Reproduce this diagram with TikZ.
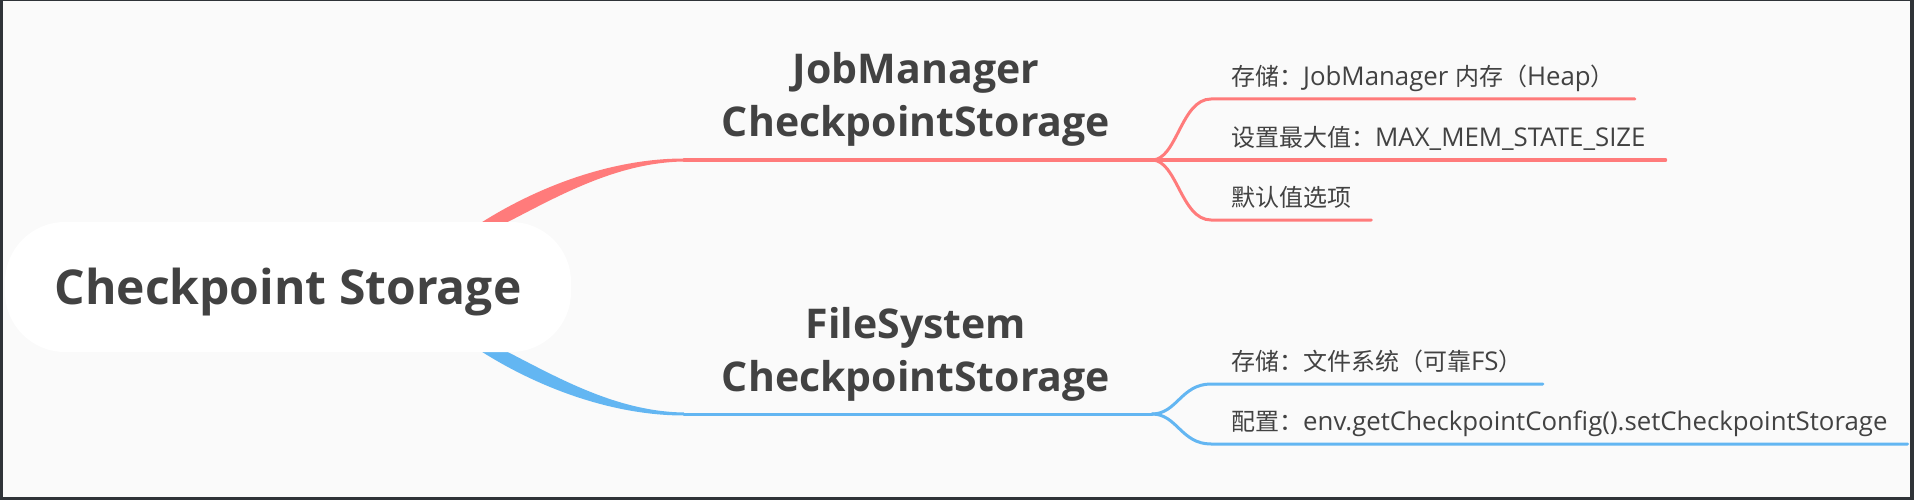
\documentclass[tikz,border=0pt]{standalone}
\usepackage{fontspec}
\setmainfont{Open Sans}
\newfontfamily\cjk{Noto Sans CJK SC}[Scale=0.93]
\definecolor{mapRed}{HTML}{FF7B7B}
\definecolor{mapBlue}{HTML}{63B6F2}
\definecolor{mapText}{HTML}{424242}
\definecolor{mapBack}{HTML}{FAFAFA}
\definecolor{mapFrame}{HTML}{2F3338}

\begin{document}
\begin{tikzpicture}[x=1pt,y=-1pt,
        rootNode/.style={fill=white,rounded corners=60pt,minimum width=566pt,minimum height=130pt,inner sep=0pt,text=mapText,font=\bfseries\fontsize{48}{58}\selectfont,text height=46pt,text depth=12pt},
        titleNode/.style={anchor=south,align=center,inner sep=0pt,text=mapText,font=\bfseries\fontsize{41}{53}\selectfont},
        leafNode/.style={anchor=south west,inner xsep=20pt,inner ysep=8pt,text height=20pt,text depth=5pt,text=mapText,font=\fontsize{25.8}{30}\selectfont},
        branch/.style={line width=3pt,line cap=round}]
        \def\centerY{287}
        \def\bendX{684}
        \def\forkX{1152}
        \def\branchX{1211}
        \def\titleX{916}

        % Frame
        \useasboundingbox (0,0) rectangle (1914,500);
        \fill[mapFrame] (0,0) rectangle (1914,500);
        \fill[mapBack] (3,1) rectangle (1910,497);

        % Tapered curves out of the root
        \foreach \col/\s in {mapRed/1,mapBlue/-1} {
                \fill[\col,shift={(0,\centerY)},yscale=\s] (476,-61) .. controls (534,-99) and (610,-128.5) .. (\bendX,-128.5) -- (\bendX,-125.5) .. controls (612,-124.5) and (550,-86) .. (494,-58) -- cycle;
            }

        % Root
        \node[rootNode] (root) at (288,\centerY) {Checkpoint Storage};

        % JobManager checkpoint storage
        \coordinate (jmBend) at (\bendX,160);
        \coordinate (jmFork) at (\forkX,160);
        \draw[mapRed,branch] (jmBend) -- (jmFork);
        \node[titleNode] (jm) at (\titleX,147) {JobManager\\CheckpointStorage};
        \foreach \y/\txt [count=\i] in {99/{{\cjk 存储：}JobManager {\cjk 内存（}Heap{\cjk ）}},160/{{\cjk 设置最大值：}MAX\_MEM\_STATE\_SIZE},220/{{\cjk 默认值选项}}} {
                \node[leafNode] (jm\i) at (\branchX,\y) {\txt};
                \draw[mapRed,branch] (jmFork) .. controls +(25,0) and +(-30,0) .. (jm\i.south west) -- (jm\i.south east);
            }

        % FileSystem checkpoint storage
        \coordinate (fsBend) at (\bendX,414);
        \coordinate (fsFork) at (\forkX,414);
        \draw[mapBlue,branch] (fsBend) -- (fsFork);
        \node[titleNode] (fs) at (\titleX,402) {FileSystem\\CheckpointStorage};
        \foreach \y/\txt [count=\i] in {384/{{\cjk 存储：文件系统（可靠}FS{\cjk ）}},444/{{\cjk 配置：}env.getCheckpointConfig().setCheckpointStorage}} {
                \node[leafNode] (fs\i) at (\branchX,\y) {\txt};
                \draw[mapBlue,branch] (fsFork) .. controls +(25,0) and +(-30,0) .. (fs\i.south west) -- (fs\i.south east);
            }
    \end{tikzpicture}
\end{document}
